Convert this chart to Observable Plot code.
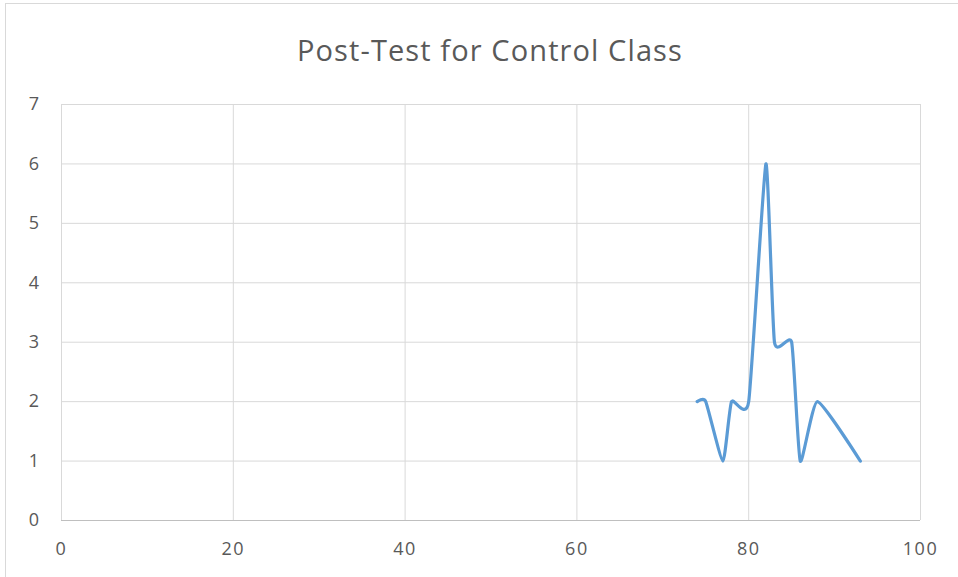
<!DOCTYPE html>
<html>
<head>
<meta charset="utf-8">
<script src="https://cdn.jsdelivr.net/npm/d3@7"></script>
<script src="https://cdn.jsdelivr.net/npm/@observablehq/plot@0.6"></script>
<style>
  html, body { margin: 0; padding: 0; background: #fff; }
  #wrap { position: relative; width: 958px; height: 577px; overflow: hidden; }
  #frame { position: absolute; left: 5px; top: 3px; width: 960px; height: 580px; border: 1px solid #d9d9d9; box-sizing: border-box; }
  #title { position: absolute; left: 0; top: 30px; width: 980px; text-align: center; font-family: "Open Sans", sans-serif; font-size: 29px; line-height: 40px; color: #595959; letter-spacing: 1.1px; }
  #chart { position: absolute; left: 0; top: 0; }
  #chart svg text { letter-spacing: 1.5px; }
</style>
</head>
<body>
<div id="wrap">
  <div id="frame"></div>
  <div id="title">Post-Test for Control Class</div>
  <div id="chart"></div>
</div>
<script>
const scores = [74, 75, 77, 78, 80, 82, 83, 85, 86, 88, 93];
const counts = [2, 2, 1, 2, 2, 6, 3, 3, 1, 2, 1];
const xTicks = [0, 20, 40, 60, 80, 100];
const yTicks = [0, 1, 2, 3, 4, 5, 6, 7];

const data = scores.map((s, i) => ({score: s, count: counts[i]}));

const chart = Plot.plot({
  width: 958,
  height: 577,
  marginLeft: 61,
  marginRight: 38,
  marginTop: 104,
  marginBottom: 57,
  style: {fontFamily: "Open Sans, sans-serif", fontSize: "18px", color: "#595959", background: "transparent"},
  x: {domain: [0, 100], label: null},
  y: {domain: [0, 7], label: null},
  marks: [
    Plot.gridX(xTicks, {stroke: "#d9d9d9", strokeOpacity: 1, strokeWidth: 1}),
    Plot.gridY(yTicks, {stroke: "#d9d9d9", strokeOpacity: 1, strokeWidth: 1}),
    Plot.ruleY([0], {stroke: "#bfbfbf", strokeWidth: 1}),
    Plot.axisX({ticks: xTicks, tickSize: 0, tickPadding: 22, tickFormat: "d", fill: "#595959", fontSize: 18}),
    Plot.axisY({ticks: yTicks, tickSize: 0, tickPadding: 21, tickFormat: "d", fill: "#595959", fontSize: 18}),
    Plot.line(data, {x: "score", y: "count", stroke: "#5b9bd5", strokeWidth: 3.2, curve: "cardinal", tension: 0.5})
  ]
});
document.getElementById("chart").appendChild(chart);
</script>
</body>
</html>
